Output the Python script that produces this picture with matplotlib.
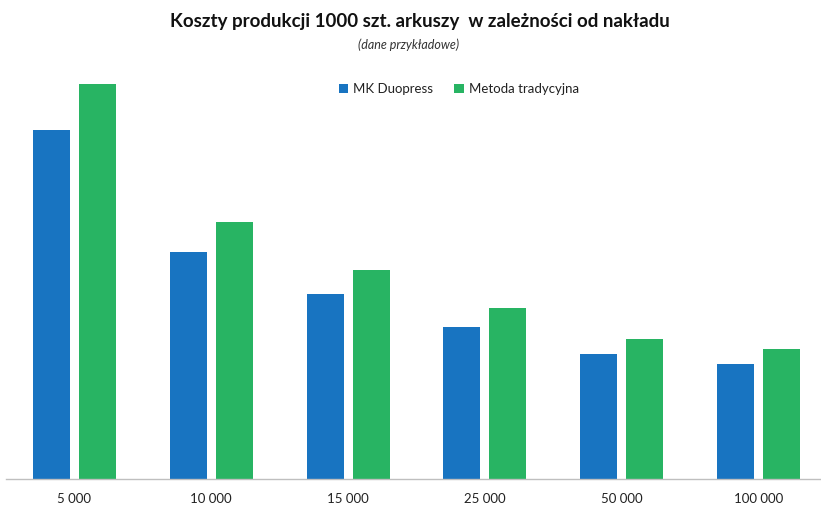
import matplotlib
matplotlib.use("Agg")
import matplotlib.pyplot as plt
import numpy as np

categories = ["5 000", "10 000", "15 000", "25 000", "50 000", "100 000"]
mk_duopress = [347, 226, 184, 151, 124, 114]
tradycyjna = [393, 256, 208, 170, 139, 129]
series_names = ["MK Duopress", "Metoda tradycyjna"]
title = "Koszty produkcji 1000 szt. arkuszy  w zależności od nakładu"
subtitle = "(dane przykładowe)"

plt.rcParams['font.family'] = ['Lato', 'DejaVu Sans']

W, H = 821, 505
fig = plt.figure(figsize=(W / 100, H / 100), dpi=100)
left_px, right_px, bottom_px, top_px = 6, 820, 478.5, 84
ax = fig.add_axes([left_px / W, (H - bottom_px) / H, (right_px - left_px) / W, (bottom_px - top_px) / H])

blue = "#1874C1"
green = "#28B463"
x = np.arange(len(categories))
bw = 0.27
off = 0.168
ax.bar(x - off, mk_duopress, bw, color=blue, label=series_names[0])
ax.bar(x + off, tradycyjna, bw, color=green, label=series_names[1])

ax.set_xlim(-0.5007, 5.450)
ax.set_ylim(0, max(tradycyjna))
ax.set_xticks(x)
ax.set_xticklabels(categories, fontsize=9.5, color="#222222")
ax.tick_params(axis='x', length=0, pad=10.5)
ax.set_yticks([])
for s in ["top", "right", "left"]:
    ax.spines[s].set_visible(False)
ax.spines["bottom"].set_color("#BFBFBF")
ax.spines["bottom"].set_linewidth(1.0)

fig.text(420 / W, 1 - 21 / H, title, ha="center", va="center", fontsize=13.5, fontweight="bold", color="#111111")
fig.text(409 / W, 1 - 45 / H, subtitle, ha="center", va="center", fontsize=9, style="italic", color="#333333")

leg = fig.legend(loc="center", bbox_to_anchor=(459 / W, 1 - 89 / H), ncol=2, frameon=False,
                 fontsize=9.5, handlelength=0.7, handleheight=0.7, handletextpad=0.4, columnspacing=1.6)
for t in leg.get_texts():
    t.set_color("#222222")

fig.savefig("out.png", dpi=100)
